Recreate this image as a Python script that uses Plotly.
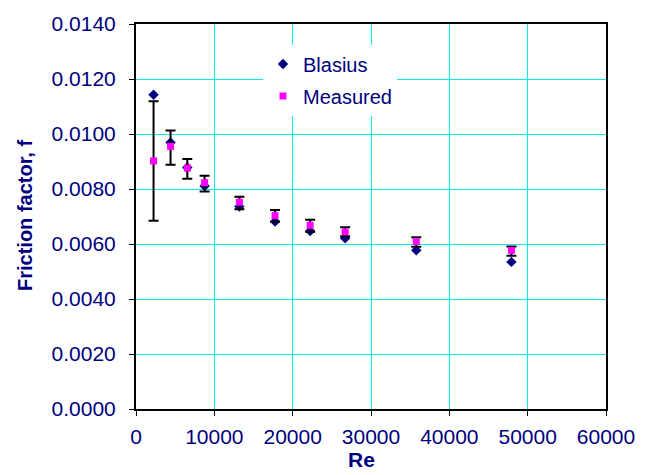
import plotly.graph_objects as go

re_vals = [2240, 4410, 6550, 8760, 13200, 17750, 22230, 26700, 35780, 47930]
blasius = [0.01143, 0.00969, 0.00878, 0.00811, 0.00736, 0.00682, 0.00647, 0.00621, 0.00577, 0.00535]
measured = [0.00902, 0.00955, 0.00876, 0.00823, 0.00752, 0.00703, 0.00668, 0.00644, 0.00609, 0.00577]
err_plus = [0.00217, 0.00058, 0.00033, 0.00025, 0.00020, 0.00021, 0.00020, 0.00017, 0.00016, 0.00014]
err_minus = [0.00217, 0.00067, 0.00039, 0.00032, 0.00026, 0.00022, 0.00023, 0.00016, 0.00019, 0.00020]

x_ticks = [0, 10000, 20000, 30000, 40000, 50000, 60000]
y_ticks = [0.0, 0.002, 0.004, 0.006, 0.008, 0.010, 0.012, 0.014]

NAVY = "#000080"
FONT = "Liberation Sans, Arial, sans-serif"
W, H = 651, 475
ML, MR, MT, MB = 136, 45, 16, 66

fig = go.Figure()
fig.add_trace(go.Scatter(
    x=re_vals, y=blasius, mode="markers", name="Blasius",
    marker=dict(symbol="diamond", size=8, color=NAVY),
    legendgroup="a",
))
fig.add_trace(go.Scatter(
    x=re_vals, y=measured, mode="markers", name="Measured",
    marker=dict(symbol="square", size=7, color="#FF00FF"),
    error_y=dict(type="data", symmetric=False, array=err_plus, arrayminus=err_minus,
                 color="black", thickness=2, width=5),
    legendgroup="b",
))

axis_common = dict(
    showline=True, linecolor="black", linewidth=2, mirror=True,
    showgrid=True, gridcolor="#00F0F0", gridwidth=1,
    ticks="outside", ticklen=5, tickcolor="black", tickwidth=1,
    zeroline=False,
)

fig.update_xaxes(range=[0, 60000], tickvals=x_ticks, tickformat="d",
                 tickfont=dict(family=FONT, size=21, color=NAVY),
                 ticklabelstandoff=3, **axis_common)
fig.update_yaxes(range=[0, 0.014], tickvals=y_ticks, tickformat=".4f",
                 tickfont=dict(family=FONT, size=21, color=NAVY),
                 ticklabelstandoff=9, **axis_common)

pw = W - ML - MR
ph = H - MT - MB

fig.update_layout(
    width=W, height=H,
    margin=dict(l=ML, r=MR, t=MT, b=MB, pad=0),
    paper_bgcolor="white", plot_bgcolor="white",
    font=dict(family=FONT, color=NAVY, size=20),
    showlegend=True,
    legend=dict(
        x=(263 - ML) / pw, y=1 - (37 - MT) / ph, xanchor="left", yanchor="top",
        bgcolor="white", borderwidth=0,
        font=dict(family=FONT, size=20, color=NAVY),
        traceorder="grouped", tracegroupgap=3,
        itemsizing="trace",
    ),
    annotations=[
        dict(text="<b>Re</b>", xref="paper", yref="paper",
             x=(361 - ML) / pw, y=-(461 - (H - MB)) / ph,
             xanchor="center", yanchor="middle", showarrow=False,
             font=dict(family=FONT, size=21, color=NAVY)),
        dict(text="<b>Friction factor, f</b>", xref="paper", yref="paper",
             x=(25 - ML) / pw, y=1 - (212 - MT) / ph,
             xanchor="center", yanchor="middle", showarrow=False, textangle=-90,
             font=dict(family=FONT, size=20, color=NAVY)),
    ],
)

fig.write_html("out.html")
